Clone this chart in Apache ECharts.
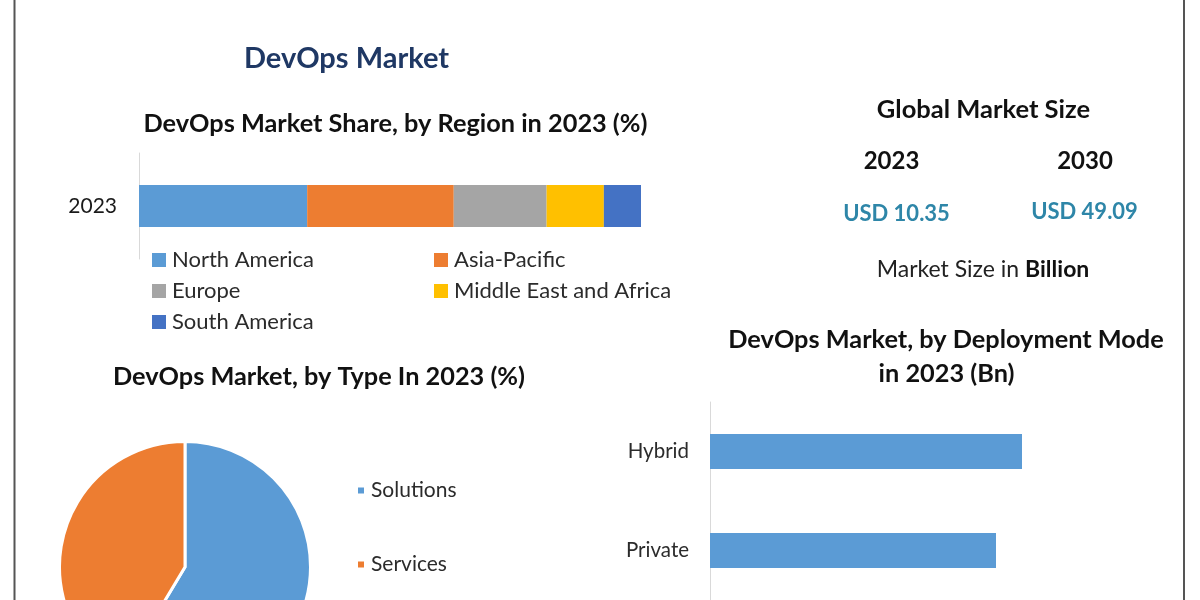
<!DOCTYPE html>
<html>
<head>
<meta charset="utf-8">
<style>html,body{margin:0;padding:0;background:#fff}#main{width:1200px;height:600px}</style>
<script src="https://cdn.jsdelivr.net/npm/echarts@6/dist/echarts.min.js"></script>
</head>
<body>
<div id="main"></div>
<script>
var regionNames = ['North America', 'Asia-Pacific', 'Europe', 'Middle East and Africa', 'South America'];
var regionShare = [33.5, 29.2, 18.5, 11.4, 7.4];
var regionColors = ['#5b9bd5', '#ed7d31', '#a5a5a5', '#ffc000', '#4472c4'];
var regionYear = ['2023'];

var typeNames = ['Solutions', 'Services'];
var typeShare = [58.6, 41.4];

var modeNames = ['Hybrid', 'Private'];
var modeValues = [3.12, 2.86];

var sizeYears = ['2023', '2030'];
var sizeValues = ['USD 10.35', 'USD 49.09'];

var FONT = 'Lato';

// all headings are plain title components, centred on x
function heading(text, x, y, size, weight, color, rich) {
	return {
		text: text,
		left: x,
		top: y,
		padding: 0,
		textAlign: 'center',
		textVerticalAlign: 'middle',
		textStyle: {
			fontFamily: FONT,
			fontSize: size,
			fontWeight: weight,
			color: color,
			rich: rich
		}
	};
}

function legendAt(name, x, y, size, fontSize, gap) {
	return {
		data: [name],
		left: x,
		top: y,
		orient: 'horizontal',
		padding: 0,
		icon: 'rect',
		itemWidth: size,
		itemHeight: size,
		itemGap: 0,
		textStyle: { fontFamily: FONT, fontSize: fontSize, color: '#2b2b2b', padding: [0, 0, 0, gap] }
	};
}

var regionSeries = [];
for (var i = 0; i < regionNames.length; i++) {
	regionSeries.push({
		name: regionNames[i],
		type: 'bar',
		stack: 'region',
		xAxisIndex: 0,
		yAxisIndex: 0,
		barWidth: 42,
		itemStyle: { color: regionColors[i] },
		data: [regionShare[i]]
	});
}

var pieData = [];
for (var j = 0; j < typeNames.length; j++) {
	pieData.push({ name: typeNames[j], value: typeShare[j], itemStyle: { color: regionColors[j] } });
}

var option = {
	backgroundColor: '#fff',
	animation: false,
	title: [
		heading('DevOps Market', 346.5, 59, 29, 'bold', '#1f3864'),
		heading('DevOps Market Share, by Region in 2023 (%)', 395.5, 124, 25.3, 'bold', '#111'),
		heading('DevOps Market, by Type In 2023 (%)', 319, 377, 25.3, 'bold', '#111'),
		heading('DevOps Market, by Deployment Mode', 946, 340, 25.3, 'bold', '#111'),
		heading('in 2023 (Bn)', 946.5, 374, 25.3, 'bold', '#111'),
		heading('Global Market Size', 983.5, 110, 25.5, 'bold', '#111'),
		heading(sizeYears[0], 891.5, 161, 24, 'bold', '#111'),
		heading(sizeYears[1], 1085, 161, 24, 'bold', '#111'),
		heading(sizeValues[0], 896.5, 214, 22, 'bold', '#2e86a8'),
		heading(sizeValues[1], 1084.5, 212, 22, 'bold', '#2e86a8'),
		heading('Market Size in {b|Billion}', 983, 270, 23, 'normal', '#222', {
			b: { fontFamily: FONT, fontSize: 23, fontWeight: 'bold', color: '#111' }
		})
	],
	legend: [
		legendAt(regionNames[0], 152, 249, 14, 22, 1),
		legendAt(regionNames[1], 434, 249, 14, 22, 1),
		legendAt(regionNames[2], 152, 280, 14, 22, 1),
		legendAt(regionNames[3], 434, 280, 14, 22, 1),
		legendAt(regionNames[4], 152, 311, 14, 22, 1),
		legendAt(typeNames[0], 356, 480, 8, 21, 1),
		legendAt(typeNames[1], 356, 554, 8, 21, 1)
	],
	grid: [
		{ left: 139, top: 153, width: 502, height: 106 },
		{ left: 710, top: 402, width: 400, height: 200 }
	],
	xAxis: [
		{ gridIndex: 0, type: 'value', min: 0, max: 100, show: false },
		{ gridIndex: 1, type: 'value', min: 0, max: 4, show: false }
	],
	yAxis: [
		{
			gridIndex: 0,
			type: 'category',
			data: regionYear,
			axisTick: { show: false },
			axisLine: { lineStyle: { color: '#d9d9d9' } },
			axisLabel: { margin: 22, fontFamily: FONT, fontSize: 21, color: '#1a1a1a' }
		},
		{
			gridIndex: 1,
			type: 'category',
			inverse: true,
			data: modeNames,
			axisTick: { show: false },
			axisLine: { lineStyle: { color: '#d9d9d9' } },
			axisLabel: { margin: 21, padding: [3, 0, 0, 0], fontFamily: FONT, fontSize: 20.5, color: '#2b2b2b' }
		}
	],
	series: regionSeries.concat([
		{
			type: 'pie',
			center: [185, 567],
			radius: [0, 125.5],
			startAngle: 90,
			label: { show: false },
			labelLine: { show: false },
			itemStyle: { borderColor: '#fff', borderWidth: 3 },
			data: pieData
		},
		{
			type: 'bar',
			xAxisIndex: 1,
			yAxisIndex: 1,
			barWidth: 35,
			itemStyle: { color: '#5b9bd5' },
			data: modeValues
		}
	]),
	graphic: [
		{ type: 'line', shape: { x1: 14.5, y1: 0, x2: 14.5, y2: 600 }, style: { stroke: '#555', lineWidth: 2 } },
		{ type: 'line', shape: { x1: 1184, y1: 0, x2: 1184, y2: 600 }, style: { stroke: '#555', lineWidth: 2 } }
	]
};

var myChart = echarts.init(document.getElementById('main'));
myChart.setOption(option);
</script>
</body>
</html>
